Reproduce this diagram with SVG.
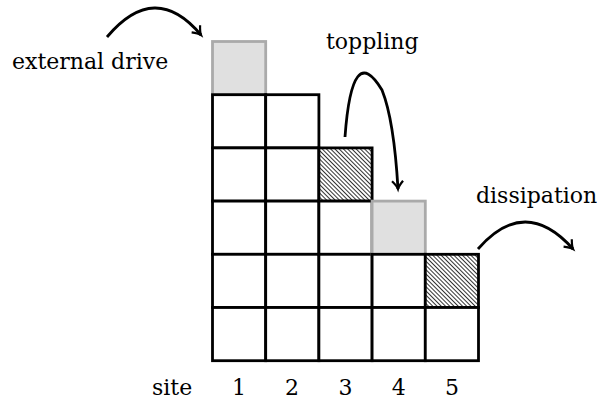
<svg xmlns="http://www.w3.org/2000/svg" width="597" height="400" viewBox="0 0 597 400">
<style>
.cell{fill:#fff;stroke:#000;stroke-width:2.8}
.gray{fill:#e0e0e0;stroke:#aaaaaa;stroke-width:2.8}
.hatch{fill:url(#hatch);stroke:#000;stroke-width:2.8}
.lbl{font-family:"DejaVu Serif","Liberation Serif",serif;font-size:22px;fill:#000}
.arc{fill:none;stroke:#000;stroke-width:2.8}
</style>
<defs>
<pattern id="hatch" patternUnits="userSpaceOnUse" width="3" height="3" patternTransform="rotate(45)">
<rect width="3" height="3" fill="#fff"/>
<line x1="0" y1="0.5" x2="3" y2="0.5" stroke="#000" stroke-width="0.8"/>
</pattern>
<marker id="arr" markerWidth="14" markerHeight="14" refX="10" refY="7" orient="auto" markerUnits="userSpaceOnUse">
<path d="M2,1.5 Q7,6 10,7 Q7,8 2,12.5" fill="none" stroke="#000" stroke-width="2.2"/>
</marker>
</defs>
<rect width="597" height="400" fill="#fff"/>
<g id="col1">
<rect class="gray" x="212.5" y="41.5" width="53.2" height="53.2"/>
<rect class="cell" x="212.5" y="94.7" width="53.2" height="53.2"/>
<rect class="cell" x="212.5" y="147.9" width="53.2" height="53.2"/>
<rect class="cell" x="212.5" y="201.1" width="53.2" height="53.2"/>
<rect class="cell" x="212.5" y="254.3" width="53.2" height="53.2"/>
<rect class="cell" x="212.5" y="307.5" width="53.2" height="53.2"/>
</g>
<g id="col2">
<rect class="cell" x="265.7" y="94.7" width="53.2" height="53.2"/>
<rect class="cell" x="265.7" y="147.9" width="53.2" height="53.2"/>
<rect class="cell" x="265.7" y="201.1" width="53.2" height="53.2"/>
<rect class="cell" x="265.7" y="254.3" width="53.2" height="53.2"/>
<rect class="cell" x="265.7" y="307.5" width="53.2" height="53.2"/>
</g>
<g id="col3">
<rect class="hatch" x="318.9" y="147.9" width="53.2" height="53.2"/>
<rect class="cell" x="318.9" y="201.1" width="53.2" height="53.2"/>
<rect class="cell" x="318.9" y="254.3" width="53.2" height="53.2"/>
<rect class="cell" x="318.9" y="307.5" width="53.2" height="53.2"/>
</g>
<g id="col4">
<rect class="gray" x="372.1" y="201.1" width="53.2" height="53.2"/>
<rect class="cell" x="372.1" y="254.3" width="53.2" height="53.2"/>
<rect class="cell" x="372.1" y="307.5" width="53.2" height="53.2"/>
</g>
<g id="col5">
<rect class="hatch" x="425.3" y="254.3" width="53.2" height="53.2"/>
<rect class="cell" x="425.3" y="307.5" width="53.2" height="53.2"/>
</g>
<g id="connectors">
<path class="arc" d="M107,37 Q155,-20 201,35" marker-end="url(#arr)"/>
<path class="arc" d="M345,137 Q352,40 382,90 Q394,120 398,189" marker-end="url(#arr)"/>
<path class="arc" d="M478,249 Q525,195 573,249" marker-end="url(#arr)"/>
</g>
<g id="labels">
<text class="lbl" x="12" y="69">external drive</text>
<text class="lbl" x="326" y="49">toppling</text>
<text class="lbl" x="476" y="203">dissipation</text>
<text class="lbl" x="152" y="395">site</text>
<text class="lbl" x="239" y="395" text-anchor="middle">1</text>
<text class="lbl" x="292" y="395" text-anchor="middle">2</text>
<text class="lbl" x="345.5" y="395" text-anchor="middle">3</text>
<text class="lbl" x="398.7" y="395" text-anchor="middle">4</text>
<text class="lbl" x="452" y="395" text-anchor="middle">5</text>
</g>
</svg>
